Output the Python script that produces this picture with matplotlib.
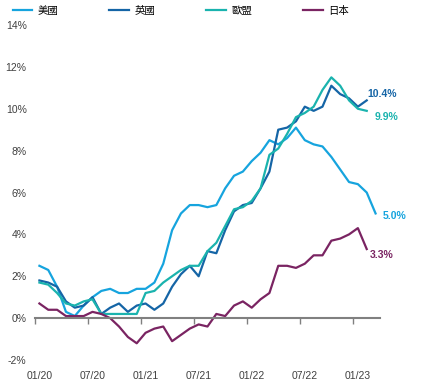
import numpy as np
import matplotlib
matplotlib.use('Agg')
import matplotlib.pyplot as plt

plt.rcParams['font.family'] = ['Liberation Sans', 'Noto Sans CJK TC', 'DejaVu Sans']

# monthly CPI yoy (%), Jan 2020 onward
us = [2.5, 2.3, 1.5, 0.3, 0.1, 0.6, 1.0, 1.3, 1.4, 1.2, 1.2, 1.4,
      1.4, 1.7, 2.6, 4.2, 5.0, 5.4, 5.4, 5.3, 5.4, 6.2, 6.8, 7.0,
      7.5, 7.9, 8.5, 8.3, 8.6, 9.1, 8.5, 8.3, 8.2, 7.7, 7.1, 6.5,
      6.4, 6.0, 5.0]
uk = [1.8, 1.7, 1.5, 0.8, 0.5, 0.6, 1.0, 0.2, 0.5, 0.7, 0.3, 0.6,
      0.7, 0.4, 0.7, 1.5, 2.1, 2.5, 2.0, 3.2, 3.1, 4.2, 5.1, 5.4,
      5.5, 6.2, 7.0, 9.0, 9.1, 9.4, 10.1, 9.9, 10.1, 11.1, 10.7, 10.5,
      10.1, 10.4]
eu = [1.7, 1.6, 1.2, 0.7, 0.6, 0.8, 0.9, 0.2, 0.2, 0.2, 0.2, 0.2,
      1.2, 1.3, 1.7, 2.0, 2.3, 2.5, 2.5, 3.2, 3.6, 4.4, 5.2, 5.3,
      5.6, 6.2, 7.8, 8.1, 8.8, 9.6, 9.8, 10.1, 10.9, 11.5, 11.1, 10.4,
      10.0, 9.9]
jp = [0.7, 0.4, 0.4, 0.1, 0.1, 0.1, 0.3, 0.2, 0.0, -0.4, -0.9, -1.2,
      -0.7, -0.5, -0.4, -1.1, -0.8, -0.5, -0.3, -0.4, 0.2, 0.1, 0.6, 0.8,
      0.5, 0.9, 1.2, 2.5, 2.5, 2.4, 2.6, 3.0, 3.0, 3.7, 3.8, 4.0,
      4.3, 3.3]

names = ['美國', '英國', '歐盟', '日本']
colors = ['#16a4de', '#1565a6', '#1ab3ae', '#7a2462']
end_labels = ['5.0%', '10.4%', '9.9%', '3.3%']
label_offsets = [(7, -3), (1, 6), (8, -6), (3, -6)]  # pixels

xlabels = ['01/20', '07/20', '01/21', '07/21', '01/22', '07/22', '01/23']
yticks = np.arange(-2, 15, 2)

fig = plt.figure(figsize=(4.21, 3.83), dpi=100)
ax = fig.add_axes([0.0831, 0.06, 0.8195, 0.8747])

series = [us, uk, eu, jp]
for vals, nm, c, lab, off in zip(series, names, colors, end_labels, label_offsets):
    x = np.arange(len(vals))
    ax.plot(x, vals, color=c, lw=1.6, label=nm)
    ax.annotate(lab, (x[-1], vals[-1]), xytext=off, textcoords='offset pixels',
                color=c, fontsize=7.5, fontweight='bold', va='center', ha='left')

ax.set_xlim(-0.5, len(us) - 0.5)
ax.set_ylim(-2, 14)
ax.set_yticks(yticks)
ax.set_yticklabels(['%d%%' % v for v in yticks])

# labels sit on the category, tick marks between categories
pos = np.arange(len(xlabels)) * 6
ax.set_xticks(pos)
ax.set_xticklabels(xlabels)
ax.set_xticks(pos - 0.5, minor=True)

for s in ['top', 'right', 'left']:
    ax.spines[s].set_visible(False)
ax.spines['bottom'].set_position(('data', 0))
ax.spines['bottom'].set_color('#808080')
ax.spines['bottom'].set_linewidth(1.5)
ax.tick_params(axis='x', which='major', length=0, pad=38,
               labelsize=7.5, labelcolor='#404040')
ax.tick_params(axis='x', which='minor', direction='out', length=4, width=1,
               color='#808080')
ax.tick_params(axis='y', length=0, pad=6, labelsize=7.5, labelcolor='#404040')

fig.legend(loc='upper left', bbox_to_anchor=(0.03, 0.985), ncol=4, frameon=False,
           fontsize=7.5, handlelength=1.9, handletextpad=0.5, columnspacing=4.9,
           borderpad=0, borderaxespad=0)

fig.savefig('out.png', dpi=100)
